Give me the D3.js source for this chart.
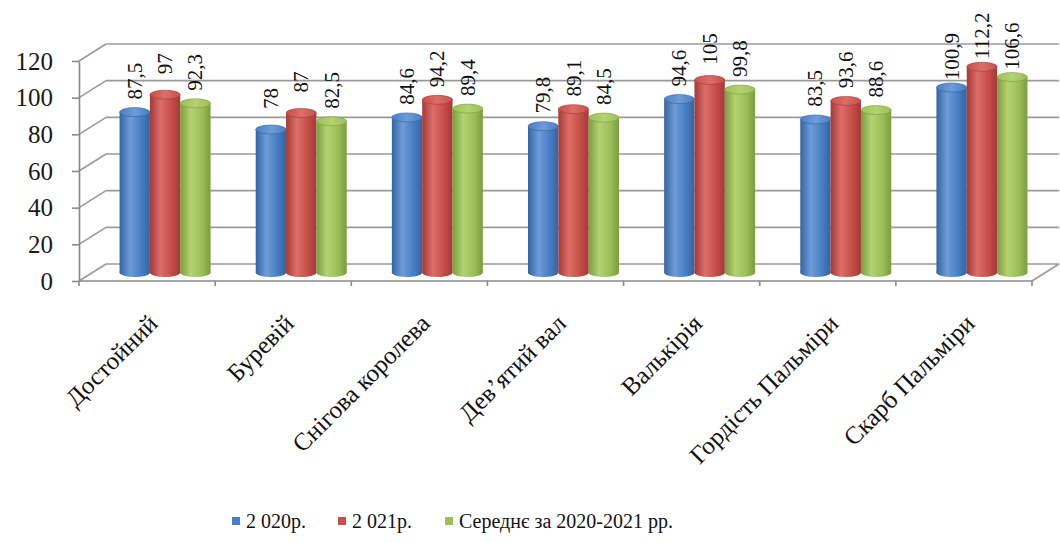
<!DOCTYPE html>
<html>
<head>
<meta charset="utf-8">
<script src="https://cdn.jsdelivr.net/npm/d3@7"></script>
</head>
<body style="margin:0; background:#fff">
<svg id="chart" width="1060" height="543" font-family="Liberation Serif"></svg>
<script>
const categories = ['Достойний', 'Буревій', 'Снігова королева', 'Дев’ятий вал', 'Валькірія', 'Гордість Пальміри', 'Скарб Пальміри'];
const seriesNames = ['2 020р.', '2 021р.', 'Середнє за 2020-2021 рр.'];
const values2020 = [87.5, 78, 84.6, 79.8, 94.6, 83.5, 100.9];
const values2021 = [97, 87, 94.2, 89.1, 105, 93.6, 112.2];
const valuesAvg = [92.3, 82.5, 89.4, 84.5, 99.8, 88.6, 106.6];
const yTicks = [0, 20, 40, 60, 80, 100, 120];

const colors = [
  { base: '#4a7ec4', light: '#6f9bd8', dark: '#34649f' },
  { base: '#c84e4a', light: '#dc6e6a', dark: '#a23a37' },
  { base: '#9dbf57', light: '#b3d273', dark: '#7d9c3f' }
];

const fontName = '"Liberation Serif"';

let svg = d3.select('#chart');
let depth = { x: 27, y: -17 };
let barShift = { x: 18, y: -8.5 };

let front = { left: 79, right: 1032, base: 281 };

let y = d3.scaleLinear().domain([0, 120]).range([front.base, 61]);
let x = d3.scaleBand().domain(categories).range([front.left, front.right]);
let xs = d3.scaleBand().domain(seriesNames).range([0, 91]);

let rows = categories.map((c, i) => ({
  cat: c,
  vals: [values2020[i], values2021[i], valuesAvg[i]]
}));

// gradients for the cylinders
let defs = svg.append('defs');
colors.forEach((c, i) => {
  let g = defs.append('linearGradient').attr('id', 'cyl' + i)
    .attr('x1', '0%').attr('x2', '100%').attr('y1', '0%').attr('y2', '0%');
  g.append('stop').attr('offset', '0%').attr('stop-color', c.dark);
  g.append('stop').attr('offset', '35%').attr('stop-color', c.light);
  g.append('stop').attr('offset', '70%').attr('stop-color', c.base);
  g.append('stop').attr('offset', '100%').attr('stop-color', c.dark);
  let t = defs.append('linearGradient').attr('id', 'cap' + i)
    .attr('x1', '0%').attr('x2', '100%').attr('y1', '0%').attr('y2', '0%');
  t.append('stop').attr('offset', '0%').attr('stop-color', c.base);
  t.append('stop').attr('offset', '50%').attr('stop-color', c.light);
  t.append('stop').attr('offset', '100%').attr('stop-color', c.base);
});

let grid = svg.append('g').attr('stroke', '#9a9a9a').attr('stroke-width', 1.6).attr('fill', 'none');

// back wall gridlines
grid.selectAll('.back')
  .data(yTicks)
  .enter()
  .append('line')
  .attr('x1', front.left + depth.x)
  .attr('x2', front.right + depth.x)
  .attr('y1', d => y(d) + depth.y)
  .attr('y2', d => y(d) + depth.y);

// side wall diagonals
grid.selectAll('.side')
  .data(yTicks)
  .enter()
  .append('line')
  .attr('x1', front.left)
  .attr('x2', front.left + depth.x)
  .attr('y1', d => y(d))
  .attr('y2', d => y(d) + depth.y);

// floor right edge
grid.append('line')
  .attr('x1', front.right).attr('y1', front.base)
  .attr('x2', front.right + depth.x).attr('y2', front.base + depth.y);

// Y axis
let yAxis = svg.append('g')
  .attr('transform', `translate(${front.left},0)`)
  .call(d3.axisLeft(y).tickValues(yTicks).tickSize(7).tickSizeOuter(0));
yAxis.attr('font-family', 'Liberation Serif').attr('font-size', null);
yAxis.select('.domain').attr('stroke', '#8a8a8a').attr('stroke-width', 1.6);
yAxis.selectAll('.tick line').attr('stroke', '#8a8a8a').attr('stroke-width', 1.6);
yAxis.selectAll('.tick text')
  .attr('x', -26)
  .attr('fill', '#1a1a1a')
  .style('font-family', fontName)
  .style('font-size', '25px');

// X axis: line plus ticks at category borders
let xAxis = svg.append('g').attr('stroke', '#8a8a8a').attr('stroke-width', 1.6);
xAxis.append('line')
  .attr('x1', front.left).attr('x2', front.right)
  .attr('y1', front.base).attr('y2', front.base);
xAxis.selectAll('.xtick')
  .data(categories.map(c => x(c)).concat([front.right]))
  .enter()
  .append('line')
  .attr('x1', d => d).attr('x2', d => d)
  .attr('y1', front.base).attr('y2', front.base + 5);

// bars (cylinders)
let bw = xs.bandwidth();
let ry = 4.5;
let groups = svg.selectAll('.grp')
  .data(rows)
  .enter()
  .append('g')
  .attr('transform', d => `translate(${x(d.cat) + (x.bandwidth() - 91) / 2 + barShift.x},${barShift.y})`);

let bars = groups.selectAll('.bar')
  .data(d => d.vals.map((v, i) => ({ v: v, i: i, s: seriesNames[i] })))
  .enter()
  .append('g');

bars.append('ellipse')
  .attr('cx', d => xs(d.s) + bw / 2)
  .attr('cy', y(0))
  .attr('rx', bw / 2)
  .attr('ry', ry)
  .attr('fill', d => `url(#cyl${d.i})`);

bars.append('rect')
  .attr('x', d => xs(d.s))
  .attr('y', d => y(d.v))
  .attr('width', bw)
  .attr('height', d => y(0) - y(d.v))
  .attr('fill', d => `url(#cyl${d.i})`);

bars.append('ellipse')
  .attr('cx', d => xs(d.s) + bw / 2)
  .attr('cy', d => y(d.v))
  .attr('rx', bw / 2)
  .attr('ry', ry)
  .attr('fill', d => `url(#cap${d.i})`)
  .attr('stroke', d => colors[d.i].dark)
  .attr('stroke-width', 0.6);

// value labels
bars.append('text')
  .attr('transform', d => `translate(${xs(d.s) + bw / 2 + 7},${y(d.v) - 31}) rotate(-90)`)
  .attr('text-anchor', 'middle')
  .style('font-family', fontName)
  .style('font-size', '21px')
  .attr('fill', '#111')
  .text(d => String(d.v).replace('.', ','));

// category labels
svg.selectAll('.xlab')
  .data(categories)
  .enter()
  .append('text')
  .attr('transform', d => `translate(${x(d) + x.bandwidth() / 2 + 12},${front.base + 44}) rotate(-45)`)
  .attr('text-anchor', 'end')
  .style('font-family', fontName)
  .style('font-size', '25px')
  .attr('fill', '#111')
  .text(d => d);

// legend
let legendX = [232, 338, 445];
let legend = svg.selectAll('.leg')
  .data(seriesNames)
  .enter()
  .append('g')
  .attr('transform', (d, i) => `translate(${legendX[i]},521)`);
legend.append('rect')
  .attr('x', 0).attr('y', -4)
  .attr('width', 8).attr('height', 8)
  .attr('fill', (d, i) => colors[i].base);
legend.append('text')
  .attr('x', 14)
  .attr('dy', '0.35em')
  .style('font-family', fontName)
  .style('font-size', '20px')
  .attr('fill', '#111')
  .text(d => d);
</script>
</body>
</html>
